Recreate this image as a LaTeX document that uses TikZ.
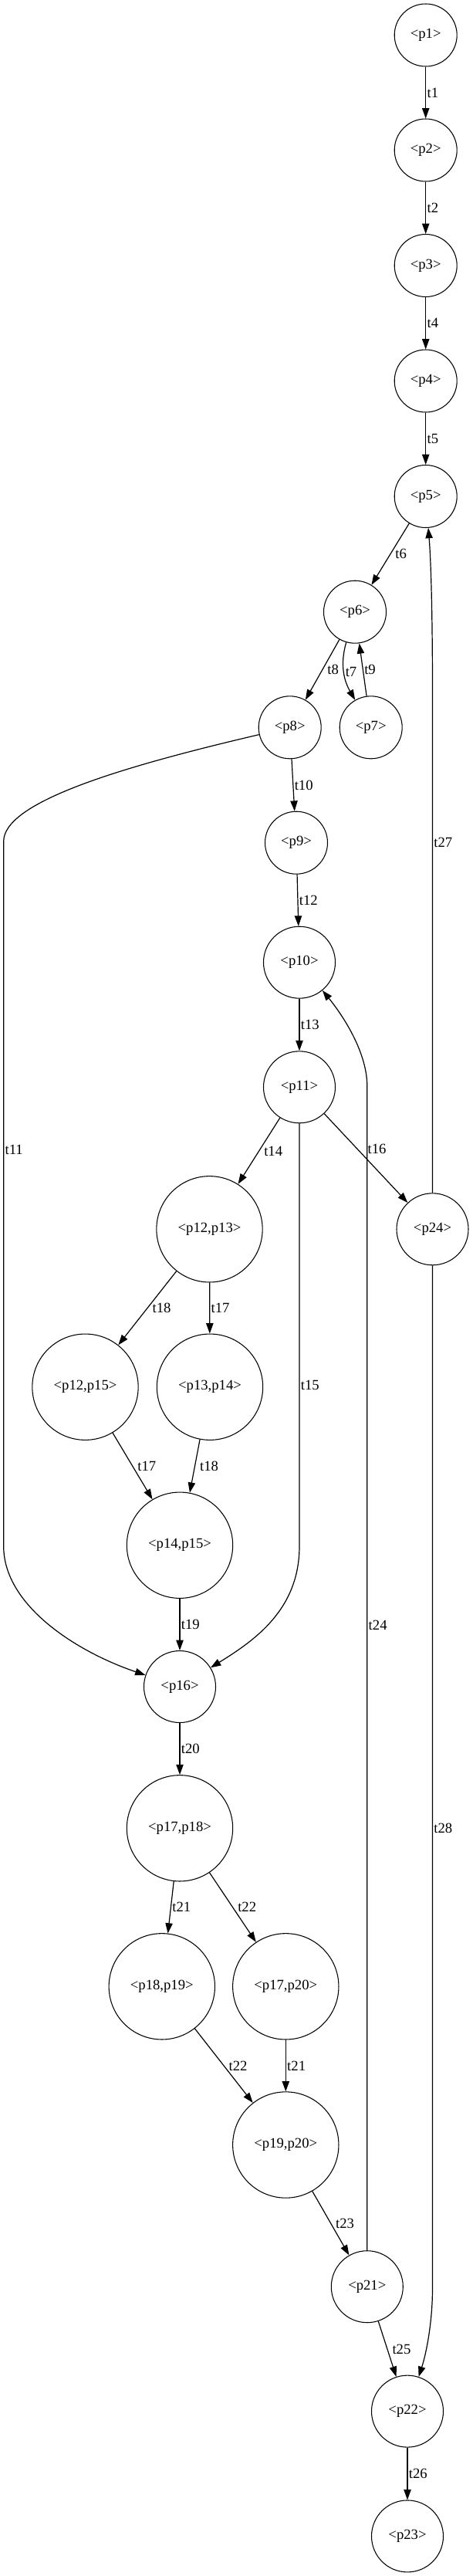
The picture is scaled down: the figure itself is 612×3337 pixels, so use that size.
\documentclass[tikz,border=0pt]{standalone}
\usepackage{fontspec}
\setmainfont{Liberation Serif}
\usepackage{tikz}
\usetikzlibrary{arrows.meta}

\begin{document}
\begin{tikzpicture}[x=0.75pt,y=-0.75pt,
		pl/.style={circle,draw,line width=0.8pt,inner sep=0pt,font=\fontsize{14}{16}\selectfont},
		pa/.style={pl,minimum size=60.75pt},
		pb/.style={pl,minimum size=69.75pt},
		pc/.style={pl,minimum size=103pt},
		tr/.style={line width=0.9pt,-{Triangle[length=10pt,width=7pt]}},
		lb/.style={font=\fontsize{14}{16}\selectfont,anchor=west,inner sep=1pt},
		ls/.style={lb,xshift=3.5pt}]
\useasboundingbox (0,0) rectangle (612,3337);
		\node[pa] (p1) at (551.7,45.5){<p1>};
		\node[pa] (p2) at (551.7,194.5){<p2>};
		\node[pa] (p3) at (551.7,344){<p3>};
		\node[pa] (p4) at (551.7,493.5){<p4>};
		\node[pa] (p5) at (551.7,643){<p5>};
		\node[pa] (p6) at (460,792.7){<p6>};
		\node[pa] (p8) at (375.7,942.3){<p8>};
		\node[pa] (p7) at (480.7,942.3){<p7>};
		\node[pa] (p9) at (384,1091.7){<p9>};
		\node[pb] (p10) at (388,1246.7){<p10>};
		\node[pb] (p11) at (388,1408.3){<p11>};
		\node[pc] (p12p13) at (271.5,1592.3){<p12,p13>};
		\node[pb] (p24) at (560.5,1592.3){<p24>};
		\node[pc] (p12p15) at (110.5,1796.7){<p12,p15>};
		\node[pc] (p13p14) at (272,1796.7){<p13,p14>};
		\node[pc] (p14p15) at (233,2001.7){<p14,p15>};
		\node[pb] (p16) at (233,2185){<p16>};
		\node[pc] (p17p18) at (233,2368.3){<p17,p18>};
		\node[pc] (p18p19) at (209.8,2573.3){<p18,p19>};
		\node[pc] (p17p20) at (370.3,2573.3){<p17,p20>};
		\node[pc] (p19p20) at (370.3,2778.5){<p19,p20>};
		\node[pb] (p21) at (475.8,2962.2){<p21>};
		\node[pb] (p22) at (528,3123.6){<p22>};
		\node[pb] (p23) at (528,3285.4){<p23>};

	\draw[tr] (p1) -- node[lb]{t1} (p2);
	\draw[tr] (p2) -- node[lb]{t2} (p3);
	\draw[tr] (p3) -- node[lb]{t4} (p4);
	\draw[tr] (p4) -- node[lb]{t5} (p5);
	\draw[tr] (p5) -- node[ls]{t6} (p6);
	\draw[tr] (p6) -- node[ls]{t8} (p8);
	\draw[tr] (p6) to[out=-106,in=120] node[lb]{t7} (p7);
	\draw[tr] (p7) -- node[lb]{t9} (p6);
	\draw[tr] (p8) -- node[lb]{t10} (p9);
	\draw[tr] (p8) .. controls (150,995) and (4.7,1040) .. (4.7,1090) -- node[lb,pos=.437]{t11} (4.7,2003) .. controls (4.7,2080) and (100,2140) .. (p16);
	\draw[tr] (p9) -- node[lb]{t12} (p10);
	\draw[tr] (p10) -- node[lb]{t13} (p11);
	\draw[tr] (p11) -- node[ls]{t14} (p12p13);
	\draw[tr] (p11) -- node[lb,pos=.62]{t15} (388,2003) .. controls (388,2085) and (330,2125) .. (p16);
	\draw[tr] (p11) -- node[lb,pos=.4,xshift=8.5pt]{t16} (p24);
	\draw[tr] (p12p13) -- node[ls]{t18} (p12p15);
	\draw[tr] (p12p13) -- node[lb]{t17} (p13p14);
	\draw[tr] (p12p15) -- node[ls]{t17} (p14p15);
	\draw[tr] (p13p14) -- node[ls]{t18} (p14p15);
	\draw[tr] (p14p15) -- node[lb]{t19} (p16);
	\draw[tr] (p16) -- node[lb]{t20} (p17p18);
	\draw[tr] (p17p18) -- node[lb]{t21} (p18p19);
	\draw[tr] (p17p18) -- node[ls]{t22} (p17p20);
	\draw[tr] (p18p19) -- node[ls]{t22} (p19p20);
	\draw[tr] (p17p20) -- node[lb]{t21} (p19p20);
	\draw[tr] (p19p20) -- node[ls]{t23} (p21);
	\draw[tr] (p21) -- node[lb,pos=.537]{t24} (475.8,1407) .. controls (475.8,1360) and (440,1310) .. (p10);
	\draw[tr] (p21) -- node[ls]{t25} (p22);
	\draw[tr] (p22) -- node[lb]{t26} (p23);
	\draw[tr] (p24) -- node[lb,pos=.703]{t27} (560.5,900) .. controls (560.5,780) and (558,720) .. (p5);
	\draw[tr] (p24) -- node[lb,pos=.55]{t28} (560.5,2964) .. controls (560.5,3010) and (552,3050) .. (p22);
		\end{tikzpicture}
\end{document}
